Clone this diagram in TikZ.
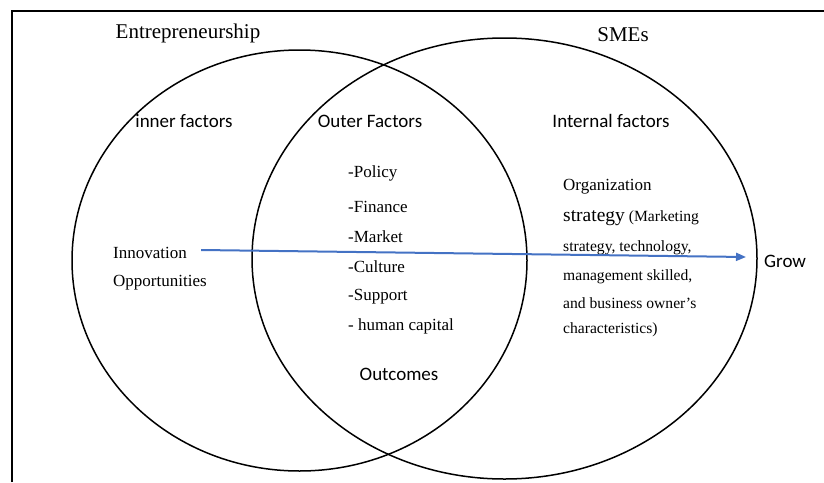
\documentclass[tikz,border=0pt]{standalone}
\usepackage{fontspec}
\setmainfont{Liberation Serif}
\newfontfamily\calib{Carlito}
\usetikzlibrary{shapes.geometric,arrows.meta}
\begin{document}
\begin{tikzpicture}[x=1pt,y=-1pt,
  setring/.style={draw=black,line width=1.5pt,ellipse,inner sep=0pt},
  heading/.style={inner sep=0pt,font=\fontsize{21}{25}\selectfont},
  sanslabel/.style={inner sep=0pt,font=\calib\fontsize{19}{23}\selectfont},
  itemtxt/.style={inner sep=0pt,anchor=west,font=\fontsize{17}{20}\selectfont},
  smalltxt/.style={inner sep=0pt,anchor=west,font=\fontsize{15.6}{19}\selectfont},
  flow/.style={draw={rgb,255:red,68;green,114;blue,196},line width=2pt,
    -{Triangle[length=10pt,width=8pt]}}]
  \useasboundingbox (0,0) rectangle (824,482);
  % open frame: left and top edges
  \draw[line width=1.5pt] (12,482) -- (12,11) -- (824,11);

  % the two overlapping sets
  \node[setring,minimum width=455pt,minimum height=421pt] (entre) at (299.5,260.5) {};
  \node[setring,minimum width=505pt,minimum height=441pt] (smes) at (504.5,258.5) {};

  % set titles
  \node[heading] (entretitle) at (188,33) {Entrepreneurship};
  \node[heading] (smestitle) at (623,35) {SMEs};

  % region headings
  \node[sanslabel] (inner) at (184,121) {inner factors};
  \node[sanslabel] (outer) at (370,121) {Outer Factors};
  \node[sanslabel] (internal) at (611,121) {Internal factors};
  \node[sanslabel] (outcomes) at (399,374) {Outcomes};
  \node[sanslabel,anchor=west] (grow) at (764,261) {Grow};

  % entrepreneurship side
  \node[itemtxt] (innov) at (113,253) {Innovation};
  \node[itemtxt] (opport) at (113,283) {Opportunities};

  % outer factors list
  \node[itemtxt] (policy) at (348,173) {-Policy};
  \node[itemtxt] (finance) at (348,207) {-Finance};
  \node[itemtxt] (market) at (348,237) {-Market};
  \node[itemtxt] (culture) at (348,267) {-Culture};
  \node[itemtxt] (support) at (348,297) {-Support};
  \node[itemtxt] (human) at (348,326) {- human capital};

  % internal factors text
  \node[itemtxt] (org1) at (563,187) {Organization};
  \node[smalltxt] (org2) at (563,218) {{\fontsize{19.5}{23}\selectfont strategy} (Marketing};
  \node[smalltxt] (org3) at (563,248) {strategy, technology,};
  \node[smalltxt] (org4) at (563,277) {management skilled,};
  \node[smalltxt] (org5) at (563,303) {and business owner’s};
  \node[smalltxt] (org6) at (563,330) {characteristics)};

  % flow from innovation to growth
  \coordinate (flowstart) at ([xshift=14pt,yshift=3pt]innov.east);
  \coordinate (flowend) at ([xshift=-18pt,yshift=4pt]grow.west);
  \draw[flow] (flowstart) -- (flowend);
\end{tikzpicture}
\end{document}
